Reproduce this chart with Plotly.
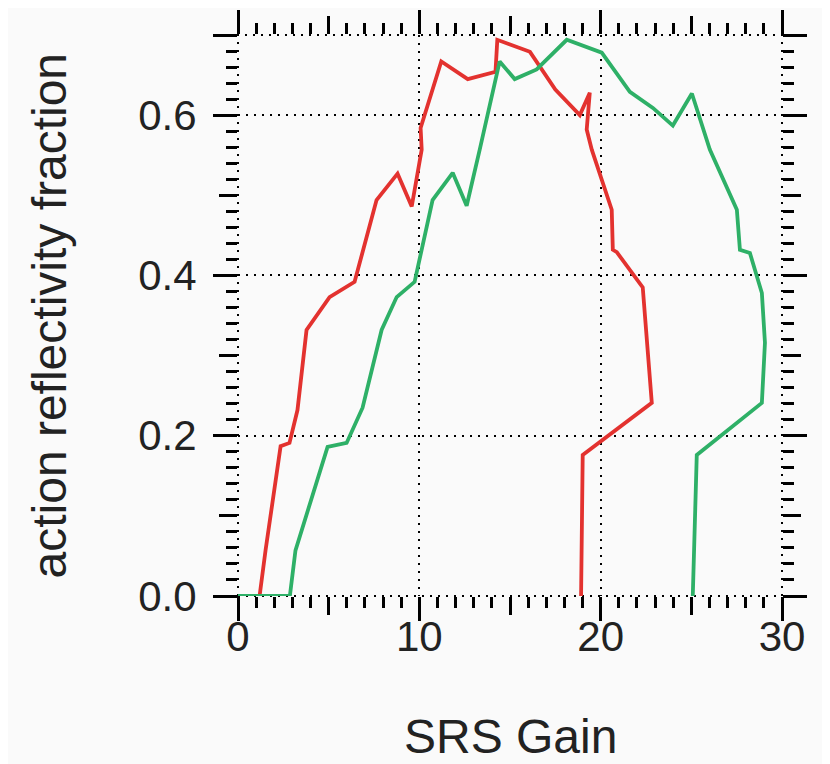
import plotly.graph_objects as go

# ---- data ----
red_x = [0.0, 1.19, 1.52, 2.35, 2.84, 3.28, 3.78, 5.05, 6.43, 7.64, 8.80, 9.58, 10.13,
         10.07, 11.21, 12.67, 14.20, 14.30, 16.10, 17.50, 18.85, 19.40, 19.23, 19.51,
         20.61, 20.67, 20.89, 22.32, 22.82, 19.01, 18.92]
red_y = [0.0, 0.0, 0.057, 0.187, 0.191, 0.232, 0.332, 0.373, 0.392, 0.494, 0.527, 0.486, 0.557,
         0.584, 0.667, 0.645, 0.654, 0.694, 0.679, 0.632, 0.600, 0.628, 0.582, 0.557,
         0.482, 0.432, 0.429, 0.385, 0.241, 0.176, 0.0]

green_x = [0.0, 2.86, 3.17, 4.94, 5.99, 6.87, 7.92, 8.75, 9.74, 10.73, 11.84, 12.61, 13.33,
           14.43, 15.26, 16.47, 18.13, 20.06, 21.61, 22.88, 23.98, 25.03, 26.02,
           27.51, 27.68, 28.23, 28.89, 29.06, 28.89, 25.30, 25.08]
green_y = [0.0, 0.0, 0.057, 0.186, 0.191, 0.235, 0.332, 0.373, 0.392, 0.494, 0.528, 0.487, 0.557,
           0.667, 0.645, 0.657, 0.694, 0.678, 0.629, 0.609, 0.587, 0.627, 0.557,
           0.482, 0.432, 0.428, 0.378, 0.316, 0.241, 0.176, 0.0]

x_major = [0, 10, 20, 30]
x_mid = [5, 15, 25]
y_major = [0.0, 0.2, 0.4, 0.6, 0.7]
y_major_text = ["0.0", "0.2", "0.4", "0.6", ""]
y_mid = [0.1, 0.3, 0.5]

X_TITLE = "SRS Gain"
Y_TITLE = "action reflectivity fraction"

RED = "#e3322f"
GREEN = "#2eb067"
FONT = "Liberation Sans, Arial, Helvetica, sans-serif"
BG = "#fafafa"
DOT = "2px,6px"

fig = go.Figure()
fig.add_trace(go.Scatter(x=red_x, y=red_y, mode="lines",
                         line=dict(color=RED, width=3.8), showlegend=False))
fig.add_trace(go.Scatter(x=green_x, y=green_y, mode="lines",
                         line=dict(color=GREEN, width=3.8), showlegend=False))
# invisible trace to carry the mid-tick overlay axes
fig.add_trace(go.Scatter(x=red_x, y=red_y, xaxis="x2", yaxis="y2", mode="lines",
                         line=dict(width=0), opacity=0, hoverinfo="skip", showlegend=False))

common = dict(ticks="outside", tickwidth=3, tickcolor="black", mirror="ticks",
              showline=False, zeroline=False, automargin=False)

fig.update_layout(
    width=822, height=756,
    margin=dict(l=230, r=48, t=27, b=168),
    paper_bgcolor=BG, plot_bgcolor=BG,
    font=dict(family=FONT, color="#222222"),
    xaxis=dict(range=[0, 30], tickvals=x_major, ticklen=24,
               tickfont=dict(size=42), ticklabelstandoff=-20,
               showgrid=True, gridcolor="black", griddash=DOT, gridwidth=2,
               minor=dict(dtick=1, ticklen=11, tickwidth=3, tickcolor="black",
                          ticks="outside", showgrid=False),
               **common),
    yaxis=dict(range=[0, 0.7], tickvals=y_major, ticktext=y_major_text, ticklen=24,
               tickfont=dict(size=42), ticklabelstandoff=8,
               showgrid=True, gridcolor="black", griddash=DOT, gridwidth=2,
               minor=dict(dtick=0.02, ticklen=11, tickwidth=3, tickcolor="black",
                          ticks="outside", showgrid=False),
               **common),
    xaxis2=dict(overlaying="x", anchor="y", range=[0, 30], tickvals=x_mid, ticklen=18,
                showticklabels=False, showgrid=False, **common),
    yaxis2=dict(overlaying="y", anchor="x", range=[0, 0.7], tickvals=y_mid, ticklen=18,
                showticklabels=False, showgrid=False, **common),
    shapes=[dict(type="rect", xref="x domain", yref="y domain", x0=0, x1=1, y0=0, y1=1,
                 line=dict(color="black", width=2, dash=DOT), layer="below")],
    annotations=[
        dict(text=X_TITLE, xref="paper", yref="paper", x=0.5, y=-0.2496,
             xanchor="center", yanchor="middle", showarrow=False,
             font=dict(size=48, family=FONT, color="#222222")),
        dict(text=Y_TITLE, xref="paper", yref="paper", x=-0.3456, y=0.5,
             xanchor="center", yanchor="middle", textangle=-90, showarrow=False,
             font=dict(size=48, family=FONT, color="#222222")),
    ],
)

fig.write_html("out.html")
